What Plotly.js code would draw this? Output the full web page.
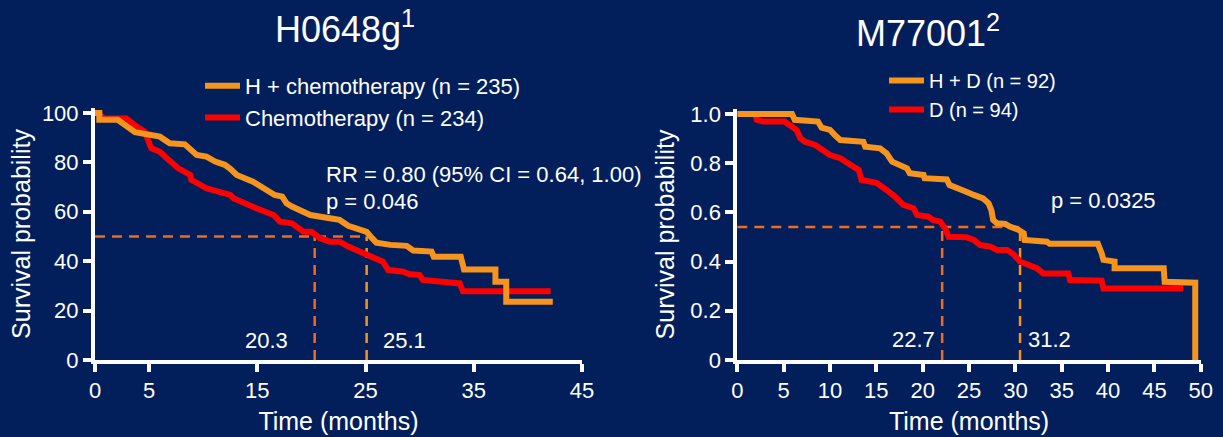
<!DOCTYPE html>
<html><head><meta charset="utf-8">
<script src="https://cdn.plot.ly/plotly-3.0.1.min.js"></script>
<style>html,body{margin:0;padding:0;background:#021f5c;}#chart{width:1223px;height:437px;}</style>
</head><body><div id="chart"></div>
<script>
// ---------- Data: H0648g (left) ----------
const leftTitle = 'H0648g<sup>1</sup>';
const leftNames = ['H + chemotherapy (n = 235)', 'Chemotherapy (n = 234)'];
const hChemoX = [0, 0.4, 0.4, 2.1, 3.7, 6.0, 6.9, 8.3, 9.4, 10.3, 11.1, 12.0, 12.5, 13.1, 14.6, 15.7, 16.6, 17.3, 17.7, 18.2, 18.9, 19.9, 21.7, 22.6, 23.4, 24.2, 25.1, 25.6, 26.0, 27.3, 28.8, 29.4, 31.1, 31.3, 33.8, 34.1, 37.0, 37.0, 38.0, 38.0, 42.3];
const hChemoY = [100, 100, 97.2, 97.2, 92.2, 90.4, 87.7, 87.3, 83.0, 82.3, 80.3, 79.0, 77.4, 74.9, 72.2, 69.5, 66.8, 66.1, 63.4, 62.1, 60.7, 58.7, 57.4, 56.7, 54.3, 53.3, 51.9, 49.3, 47.5, 46.6, 46.2, 44.3, 43.9, 41.8, 41.8, 36.6, 36.6, 31.7, 31.7, 23.6, 23.6];
const chemoX = [0, 0.3, 0.8, 2.9, 3.85, 4.6, 5.2, 6.0, 6.8, 7.7, 8.8, 8.9, 10.3, 11.55, 12.5, 12.8, 14.0, 14.9, 16.5, 17.1, 18.2, 19.25, 20.0, 20.8, 21.7, 22.6, 23.4, 25.1, 26.0, 26.6, 27.1, 28.5, 29.0, 30.0, 30.3, 31.9, 33.7, 34.0, 42.1];
const chemoY = [100, 100, 97.8, 97.8, 94.5, 92.4, 85.7, 84.3, 81.0, 77.6, 74.9, 72.9, 69.5, 68.1, 66.8, 65.5, 62.8, 61.4, 58.7, 56.0, 55.3, 51.9, 51.9, 49.3, 47.9, 47.9, 45.9, 42.5, 40.5, 39.8, 36.4, 35.7, 34.8, 34.4, 32.4, 31.7, 31.0, 27.8, 27.8];
const leftMedianLevel = 50;
const leftMedians = [20.3, 25.1];            // control, treatment
const leftMedianLabels = ['20.3', '25.1'];
const leftXTicks = [0, 5, 15, 25, 35, 45];
const leftYTicks = [0, 20, 40, 60, 80, 100];
const leftStats = ['RR = 0.80 (95% CI = 0.64, 1.00)', 'p = 0.046'];

// ---------- Data: M77001 (right) ----------
const rightTitle = 'M77001<sup>2</sup>';
const rightNames = ['H + D (n = 92)', 'D (n = 94)'];
const hdX = [0, 5.9, 6.2, 8.7, 9.1, 10.0, 10.5, 11.1, 13.6, 13.8, 15.4, 16.1, 16.7, 17.6, 18.3, 18.6, 20.1, 20.2, 22.6, 22.9, 24.0, 24.7, 25.5, 26.5, 27.1, 27.4, 27.6, 28.0, 28.9, 29.4, 30.3, 30.9, 31.0, 33.4, 33.7, 38.9, 39.3, 39.5, 40.7, 40.7, 46.0, 46.1, 49.4, 49.4];
const hdY = [1, 1, 0.976, 0.969, 0.944, 0.935, 0.915, 0.894, 0.887, 0.867, 0.86, 0.84, 0.806, 0.793, 0.779, 0.759, 0.752, 0.739, 0.734, 0.711, 0.698, 0.684, 0.671, 0.657, 0.637, 0.61, 0.569, 0.556, 0.553, 0.542, 0.53, 0.515, 0.488, 0.481, 0.472, 0.472, 0.434, 0.407, 0.40, 0.373, 0.373, 0.318, 0.314, 0];
const dX = [0, 1.9, 2.1, 2.8, 5.1, 5.7, 6.4, 6.8, 7.3, 8.4, 9.3, 10.0, 11.1, 11.8, 12.5, 13.1, 13.4, 15.0, 15.4, 16.1, 17.0, 17.9, 19.0, 19.4, 20.6, 21.1, 21.9, 22.4, 22.8, 24.7, 25.5, 26.2, 27.3, 28.0, 29.1, 29.8, 30.5, 31.4, 32.3, 33.0, 35.7, 35.9, 39.3, 39.5, 48.1];
const dY = [1, 1, 0.976, 0.969, 0.969, 0.955, 0.935, 0.901, 0.887, 0.874, 0.854, 0.833, 0.82, 0.80, 0.786, 0.772, 0.732, 0.72, 0.711, 0.691, 0.664, 0.63, 0.617, 0.589, 0.583, 0.569, 0.562, 0.535, 0.501, 0.499, 0.488, 0.467, 0.461, 0.447, 0.447, 0.43, 0.40, 0.386, 0.373, 0.352, 0.352, 0.325, 0.322, 0.291, 0.291];
const rightMedianLevel = 0.54;
const rightMedians = [22.1, 30.5];           // positions of the drawn guide lines
const rightMedianLabels = ['22.7', '31.2'];
const rightXTicks = [0, 5, 10, 15, 20, 25, 30, 35, 40, 45, 50];
const rightYTicks = [0, 0.2, 0.4, 0.6, 0.8, 1.0];
const rightYTickText = ['0', '0.2', '0.4', '0.6', '0.8', '1.0'];
const rightStats = ['p = 0.0325'];

const axisTitleX = 'Time (months)';
const axisTitleY = 'Survival probability';

// ---------- Styles ----------
const W = 1223, H = 437;
const BG = '#021f5c';
const ORANGE = '#f7941d';
const RED = '#ff0000';
const DASH_DARK = '#f26a1e';
const DASH_LIGHT = '#f7941d';
const FONT = '"Liberation Sans", Arial, Helvetica, sans-serif';

function guideTraces(xa, ya, level, meds) {
  const dashStyle = '10px,7px';
  return [
    {x: [0, meds[1]], y: [level, level], xaxis: xa, yaxis: ya, mode: 'lines', showlegend: false, hoverinfo: 'skip',
     line: {color: DASH_DARK, width: 2.5, dash: dashStyle}},
    {x: [meds[0], meds[0]], y: [0, level], xaxis: xa, yaxis: ya, mode: 'lines', showlegend: false, hoverinfo: 'skip',
     line: {color: DASH_DARK, width: 2.5, dash: dashStyle}},
    {x: [meds[1], meds[1]], y: [0, level], xaxis: xa, yaxis: ya, mode: 'lines', showlegend: false, hoverinfo: 'skip',
     line: {color: DASH_LIGHT, width: 2.5, dash: dashStyle}}
  ];
}

const traces = [
  ...guideTraces('x', 'y', leftMedianLevel, leftMedians),
  {x: chemoX, y: chemoY, name: leftNames[1], xaxis: 'x', yaxis: 'y', mode: 'lines', legend: 'legend', legendrank: 2,
   line: {color: RED, width: 6}},
  {x: hChemoX, y: hChemoY, name: leftNames[0], xaxis: 'x', yaxis: 'y', mode: 'lines', legend: 'legend', legendrank: 1,
   line: {color: ORANGE, width: 6}},
  ...guideTraces('x2', 'y2', rightMedianLevel, rightMedians),
  {x: dX, y: dY, name: rightNames[1], xaxis: 'x2', yaxis: 'y2', mode: 'lines', legend: 'legend2', legendrank: 2,
   line: {color: RED, width: 6}},
  {x: hdX, y: hdY, name: rightNames[0], xaxis: 'x2', yaxis: 'y2', mode: 'lines', legend: 'legend2', legendrank: 1,
   line: {color: ORANGE, width: 6}}
];

const axisBase = {
  showline: true, linewidth: 4, linecolor: '#ffffff', ticks: 'outside', ticklen: 8, tickwidth: 4, tickcolor: '#ffffff',
  showgrid: false, zeroline: false, fixedrange: true, tickfont: {size: 22, color: '#ffffff', family: FONT}
};

const layout = {
  width: W, height: H,
  margin: {l: 0, r: 0, t: 0, b: 0},
  paper_bgcolor: BG, plot_bgcolor: BG,
  font: {family: FONT, color: '#ffffff', size: 22},
  showlegend: true,
  xaxis: Object.assign({}, axisBase, {domain: [95 / W, 582 / W], range: [0, 45], tickvals: leftXTicks, anchor: 'y',
    title: {text: axisTitleX, font: {size: 25, color: '#fff'}, standoff: 11}}),
  yaxis: Object.assign({}, axisBase, {domain: [1 - 360 / H, 1 - 108 / H], range: [0, 102], tickvals: leftYTicks, anchor: 'x',
    title: {text: axisTitleY, font: {size: 25, color: '#fff'}, standoff: 5}}),
  xaxis2: Object.assign({}, axisBase, {domain: [737.3 / W, 1200.8 / W], range: [0, 50], tickvals: rightXTicks, anchor: 'y2',
    title: {text: axisTitleX, font: {size: 25, color: '#fff'}, standoff: 11}}),
  yaxis2: Object.assign({}, axisBase, {domain: [1 - 360 / H, 1 - 109 / H], range: [0, 1.02], tickvals: rightYTicks, ticktext: rightYTickText, anchor: 'x2',
    title: {text: axisTitleY, font: {size: 25, color: '#fff'}, standoff: 10}}),
  legend: {x: 200 / W, xanchor: 'left', y: 1 - 65 / H, yanchor: 'top', bgcolor: 'rgba(0,0,0,0)', borderwidth: 0,
    font: {size: 22, color: '#fff', family: FONT}, itemwidth: 35, traceorder: 'normal'},
  legend2: {x: 884 / W, xanchor: 'left', y: 1 - 61 / H, yanchor: 'top', bgcolor: 'rgba(0,0,0,0)', borderwidth: 0,
    font: {size: 20, color: '#fff', family: FONT}, itemwidth: 35, traceorder: 'normal'},
  annotations: [
    {text: leftTitle, xref: 'paper', yref: 'paper', x: 345 / W, y: 1 - 27 / H, xanchor: 'center', yanchor: 'middle', showarrow: false, font: {size: 36}},
    {text: rightTitle, xref: 'paper', yref: 'paper', x: 928 / W, y: 1 - 31 / H, xanchor: 'center', yanchor: 'middle', showarrow: false, font: {size: 36}},
    {text: leftStats[0], xref: 'x', yref: 'y', x: 21.2, y: 75.0, xanchor: 'left', yanchor: 'middle', showarrow: false, font: {size: 22}},
    {text: leftStats[1], xref: 'x', yref: 'y', x: 21.2, y: 64.0, xanchor: 'left', yanchor: 'middle', showarrow: false, font: {size: 22}},
    {text: leftMedianLabels[0], xref: 'x', yref: 'y', x: 15.85, y: 7.8, xanchor: 'center', yanchor: 'middle', showarrow: false, font: {size: 22}},
    {text: leftMedianLabels[1], xref: 'x', yref: 'y', x: 28.6, y: 7.8, xanchor: 'center', yanchor: 'middle', showarrow: false, font: {size: 22}},
    {text: rightStats[0], xref: 'x2', yref: 'y2', x: 33.6, y: 0.648, xanchor: 'left', yanchor: 'middle', showarrow: false, font: {size: 22}},
    {text: rightMedianLabels[0], xref: 'x2', yref: 'y2', x: 19.06, y: 0.0825, xanchor: 'center', yanchor: 'middle', showarrow: false, font: {size: 22}},
    {text: rightMedianLabels[1], xref: 'x2', yref: 'y2', x: 33.7, y: 0.0825, xanchor: 'center', yanchor: 'middle', showarrow: false, font: {size: 22}}
  ]
};

Plotly.newPlot('chart', traces, layout, {displayModeBar: false, responsive: false});
</script>
</body></html>
